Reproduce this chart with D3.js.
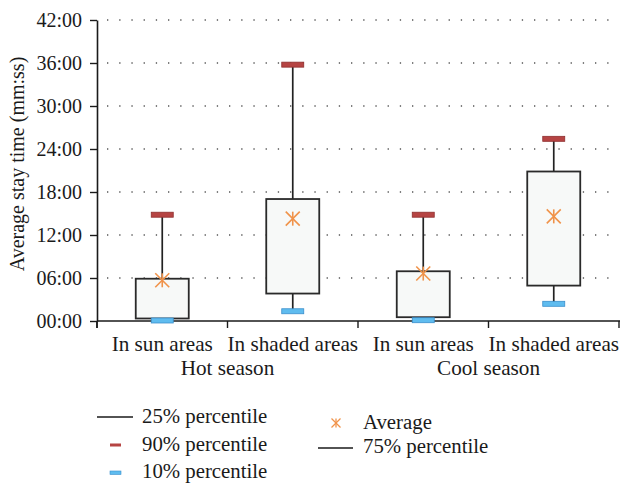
<!DOCTYPE html>
<html>
<head>
<meta charset="utf-8">
<script src="https://d3js.org/d3.v7.min.js"></script>
<style>
  html, body { margin: 0; padding: 0; background: #fff; }
  svg { display: block; }
  text { font-family: "Liberation Serif", "DejaVu Serif", serif; fill: #1a1a1a; }
</style>
</head>
<body>
<svg id="chart" width="621" height="483"></svg>
<script>
// ---- data (minutes) ----
const categories = ["In sun areas", "In shaded areas", "In sun areas", "In shaded areas"];
const groups = ["Hot season", "Cool season"];
const p10  = [0.07, 1.36, 0.11, 2.40];
const q1   = [0.35, 3.83, 0.53, 4.94];
const q3   = [5.90, 17.02, 6.94, 20.86];
const p90  = [14.83, 35.77, 14.83, 25.42];
const mean = [5.68, 14.28, 6.62, 14.60];
const yTicks = [0, 6, 12, 18, 24, 30, 36, 42];
const legendLeft = ["25% percentile", "90% percentile", "10% percentile"];
const legendRight = ["Average", "75% percentile"];

const svg = d3.select("#chart");
const FS_TICK = 20, FS_CAT = 21.2, FS_LEG = 20.8, FS_Y = 20;

const x = d3.scaleBand().domain(d3.range(categories.length)).range([97, 619]).padding(0);
const y = d3.scaleLinear().domain([0, 42]).range([321, 20]);
const fmt = v => String(v).padStart(2, "0") + ":00";

// grid (dotted)
svg.append("g").selectAll("line").data(yTicks.filter(d => d > 0)).join("line")
  .attr("x1", 107).attr("x2", 619)
  .attr("y1", d => y(d)).attr("y2", d => y(d))
  .attr("stroke", "#555").attr("stroke-width", 1.3)
  .attr("stroke-dasharray", "1.3,10.9");

// y axis
const yAxis = svg.append("g").attr("transform", "translate(97,0)")
  .call(d3.axisLeft(y).tickValues(yTicks).tickFormat(fmt).tickSize(7).tickSizeOuter(0));
yAxis.select(".domain").attr("stroke", "#1a1a1a").attr("stroke-width", 1.6);
yAxis.selectAll(".tick line").attr("stroke", "#1a1a1a").attr("stroke-width", 1.4);
yAxis.selectAll(".tick text").attr("font-size", FS_TICK).attr("x", -15)
  .attr("font-family", "Liberation Serif").attr("fill", "#1a1a1a");
svg.append("line").attr("x1", 97).attr("x2", 97).attr("y1", y(0)).attr("y2", 328)
  .attr("stroke", "#1a1a1a").attr("stroke-width", 1.6);

// x axis
svg.append("line").attr("x1", 97).attr("x2", 620).attr("y1", y(0)).attr("y2", y(0))
  .attr("stroke", "#1a1a1a").attr("stroke-width", 1.6);
const bounds = d3.range(categories.length + 1).map(i => i < categories.length ? x(i) : x.range()[1]);
svg.append("g").selectAll("line").data(bounds).join("line")
  .attr("x1", d => d).attr("x2", d => d).attr("y1", y(0)).attr("y2", 328)
  .attr("stroke", "#1a1a1a").attr("stroke-width", 1.4);

// category labels
svg.append("g").selectAll("text").data(categories).join("text")
  .attr("x", (d, i) => x(i) + x.bandwidth() / 2).attr("y", 351)
  .attr("text-anchor", "middle").attr("font-size", FS_CAT).text(d => d);
// group labels
svg.append("g").selectAll("text").data(groups).join("text")
  .attr("x", (d, i) => (x(2 * i) + x(2 * i + 1) + x.bandwidth()) / 2).attr("y", 375)
  .attr("text-anchor", "middle").attr("font-size", FS_CAT).text(d => d);

// y label
svg.append("text").attr("transform", "translate(24,164) rotate(-90)")
  .attr("text-anchor", "middle").attr("font-size", FS_Y).text("Average stay time (mm:ss)");

const boxW = 53, mW = 22, mH = 5;
const cx = i => x(i) + x.bandwidth() / 2;
const g = svg.append("g");
categories.forEach((c, i) => {
  g.append("line").attr("x1", cx(i)).attr("x2", cx(i)).attr("y1", y(q3[i])).attr("y2", y(p90[i]))
    .attr("stroke", "#222").attr("stroke-width", 1.7);
  g.append("line").attr("x1", cx(i)).attr("x2", cx(i)).attr("y1", y(q1[i])).attr("y2", y(p10[i]))
    .attr("stroke", "#222").attr("stroke-width", 1.7);
  g.append("rect").attr("x", cx(i) - boxW / 2).attr("width", boxW)
    .attr("y", y(q3[i])).attr("height", y(q1[i]) - y(q3[i]))
    .attr("fill", "#f7f9f8").attr("stroke", "#2a2a2a").attr("stroke-width", 1.8);
  g.append("rect").attr("x", cx(i) - mW / 2).attr("width", mW)
    .attr("y", y(p90[i]) - mH / 2).attr("height", mH)
    .attr("fill", "#b64443").attr("stroke", "#8f2f2f").attr("stroke-width", 0.8);
  g.append("rect").attr("x", cx(i) - mW / 2).attr("width", mW)
    .attr("y", y(p10[i]) - mH / 2).attr("height", mH)
    .attr("fill", "#5fbcef").attr("stroke", "#3b8fcc").attr("stroke-width", 0.8);
});

function asterisk(sel, px, py, r, sw) {
  const gg = sel.append("g").attr("transform", `translate(${px},${py})`)
    .attr("stroke", "#f0934a").attr("stroke-width", sw).attr("fill", "none");
  gg.append("line").attr("x1", 0).attr("x2", 0).attr("y1", -r).attr("y2", r);
  gg.append("line").attr("x1", -r).attr("x2", r).attr("y1", -r).attr("y2", r);
  gg.append("line").attr("x1", -r).attr("x2", r).attr("y1", r).attr("y2", -r);
}
mean.forEach((m, i) => asterisk(svg, cx(i), y(m), 7, 1.6));

// legend
const L = svg.append("g");
L.append("line").attr("x1", 97).attr("x2", 133).attr("y1", 417).attr("y2", 417)
  .attr("stroke", "#1a1a1a").attr("stroke-width", 1.5);
L.append("rect").attr("x", 110).attr("y", 443.5).attr("width", 11).attr("height", 3)
  .attr("fill", "#b64443");
L.append("rect").attr("x", 110).attr("y", 471).attr("width", 11).attr("height", 3.5)
  .attr("fill", "#5fbcef").attr("stroke", "#3b8fcc").attr("stroke-width", 0.6);
[423, 451, 478].forEach((yy, k) => {
  L.append("text").attr("x", 142).attr("y", yy).attr("font-size", FS_LEG).text(legendLeft[k]);
});
asterisk(L, 336, 423, 4.5, 1.3);
L.append("line").attr("x1", 318).attr("x2", 353).attr("y1", 448).attr("y2", 448)
  .attr("stroke", "#1a1a1a").attr("stroke-width", 1.5);
[429, 453].forEach((yy, k) => {
  L.append("text").attr("x", 363).attr("y", yy).attr("font-size", FS_LEG).text(legendRight[k]);
});
</script>
</body>
</html>
